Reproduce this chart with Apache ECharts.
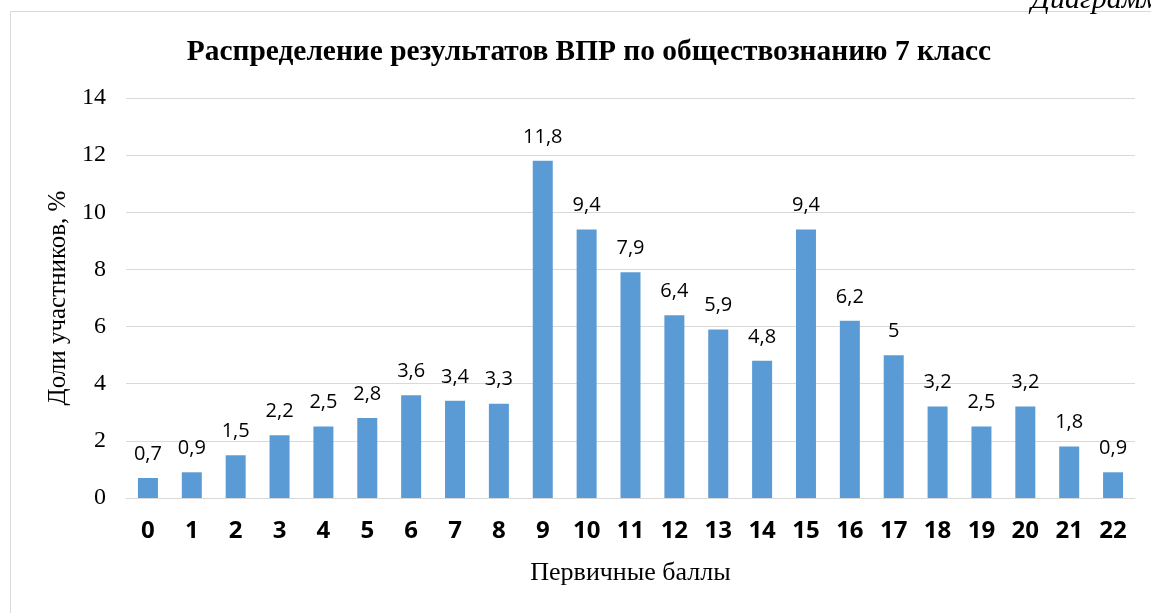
<!DOCTYPE html>
<html><head><meta charset="utf-8">
<script src="https://cdn.jsdelivr.net/npm/echarts@6/dist/echarts.min.js"></script>
<style>html,body{margin:0;padding:0;background:#fff;}#c{width:1151px;height:613px;}</style>
</head><body><div id="c"></div>
<script>
const categories = ['0','1','2','3','4','5','6','7','8','9','10','11','12','13','14','15','16','17','18','19','20','21','22'];
const values = [0.7,0.9,1.5,2.2,2.5,2.8,3.6,3.4,3.3,11.8,9.4,7.9,6.4,5.9,4.8,9.4,6.2,5,3.2,2.5,3.2,1.8,0.9];
const yTicks = [0,2,4,6,8,10,12,14];

const chart = echarts.init(document.getElementById('c'));
chart.setOption({
  animation:false,
  graphic:[
    {type:'rect',shape:{x:10.5,y:11.5,width:1150,height:620},style:{fill:'none',stroke:'#d9d9d9',lineWidth:1}},
    {type:'text',x:1031,y:15,style:{text:'Диаграмма',font:'italic 30px "Liberation Serif"',fill:'#000',verticalAlign:'bottom'}}
  ],
  title:{text:'Распределение результатов ВПР по обществознанию 7 класс',left:584,top:33,textAlign:'center',
    textStyle:{fontFamily:'Liberation Serif',fontWeight:'bold',fontSize:29.4,color:'#000'}},
  grid:{left:126,right:16,top:98,bottom:115},
  xAxis:{type:'category',data:categories,
    axisLine:{lineStyle:{color:'#d9d9d9',width:1}},axisTick:{show:false},
    axisLabel:{fontFamily:'Open Sans',fontWeight:'bold',fontSize:24,color:'#000',margin:21},
    name:'Первичные баллы',nameLocation:'middle',nameGap:62,
    nameTextStyle:{fontFamily:'Liberation Serif',fontSize:26,color:'#000'}},
  yAxis:{type:'value',min:0,max:14,interval:2,
    axisLine:{show:false},axisTick:{show:false},
    splitLine:{lineStyle:{color:'#d9d9d9',width:1}},
    axisLabel:{fontFamily:'Liberation Serif',fontSize:24,color:'#000',margin:20,
      formatter:v=>yTicks.includes(v)?String(v):''},
    name:'Доли участников, %',nameLocation:'middle',nameGap:54,nameRotate:90,
    nameTextStyle:{fontFamily:'Liberation Serif',fontSize:25,color:'#000'}},
  series:[{type:'bar',data:values,barWidth:20,
    itemStyle:{color:'#5b9bd5'},
    label:{show:true,position:'top',distance:14,fontFamily:'Open Sans',fontSize:20,color:'#000',
      formatter:p=>String(p.value).replace('.',',')}}]
});
</script></body></html>
